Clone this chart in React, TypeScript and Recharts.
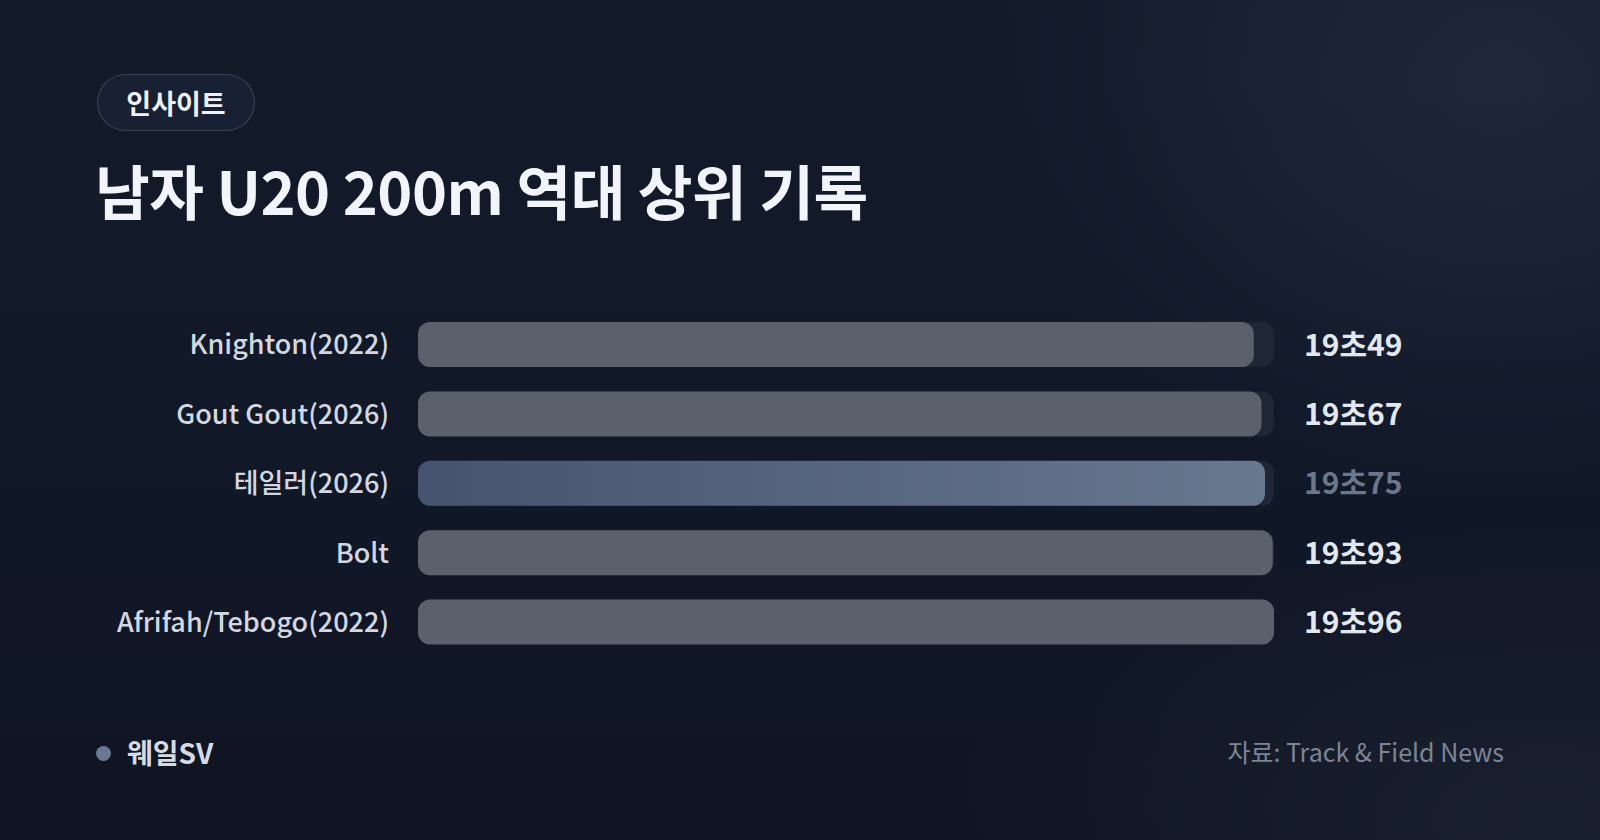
import { BarChart, Bar, XAxis, YAxis, Cell } from 'recharts'

// 남자 U20 200m 역대 상위 기록 (seconds)
const athletes = ['Knighton(2022)', 'Gout Gout(2026)', '테일러(2026)', 'Bolt', 'Afrifah/Tebogo(2022)']
const times = [19.49, 19.67, 19.75, 19.93, 19.96]
const timeLabels = ['19초49', '19초67', '19초75', '19초93', '19초96']
const highlightIndex = 2

const FONT = '"Noto Sans CJK KR", "Noto Sans", sans-serif'

const rows = athletes.map((name, i) => ({ name, time: times[i], label: timeLabels[i] }))

function NameTick(props: any) {
  const { x, y, payload } = props
  return (
    <text x={x} y={y} dy="0.36em" textAnchor="end" fill="#d3d8e0" fontSize={27} fontWeight={500} fontFamily={FONT}>
      {payload.value}
    </text>
  )
}

function ValueTick(props: any) {
  const { x, y, payload, index } = props
  const dim = index === highlightIndex
  return (
    <text x={x} y={y} dy="0.36em" textAnchor="start" fill={dim ? '#6c778b' : '#e3e7ee'} fontSize={30} fontWeight={700} fontFamily={FONT}>
      {timeLabels[athletes.indexOf(payload.value)]}
    </text>
  )
}

export default function App() {
  return (
    <div
      style={{
        position: 'absolute',
        left: 0,
        top: 0,
        width: 1600,
        height: 840,
        overflow: 'hidden',
        fontFamily: FONT,
        background:
          'radial-gradient(ellipse 520px 420px at 1500px 80px, rgba(40,50,70,0.55), rgba(40,50,70,0) 100%), radial-gradient(ellipse 600px 300px at 1550px 820px, rgba(35,42,58,0.5), rgba(35,42,58,0) 100%), linear-gradient(180deg, #131a2a 0%, #111828 50%, #0f1522 100%)',
      }}
    >
      {/* badge */}
      <div
        style={{
          position: 'absolute',
          left: 97,
          top: 74,
          width: 158,
          height: 57,
          boxSizing: 'border-box',
          borderRadius: 29,
          border: '1px solid rgba(255,255,255,0.16)',
          background: '#182033',
          color: '#eef1f6',
          fontSize: 27,
          fontWeight: 700,
          display: 'flex',
          alignItems: 'center',
          justifyContent: 'center',
        }}
      >
        인사이트
      </div>

      {/* title */}
      <div
        style={{
          position: 'absolute',
          left: 95,
          top: 149,
          color: '#f1f4f9',
          fontSize: 59.5,
          fontWeight: 700,
          letterSpacing: -0.5,
          lineHeight: '80px',
          whiteSpace: 'nowrap',
        }}
      >
        남자 U20 200m 역대 상위 기록
      </div>

      {/* chart */}
      <div style={{ position: 'absolute', left: 0, top: 310 }}>
        <BarChart
          width={1600}
          height={347}
          data={rows}
          layout="vertical"
          margin={{ top: 0, right: 0, bottom: 0, left: 0 }}
        >
          <defs>
            <linearGradient id="hiGrad" x1="0" y1="0" x2="1" y2="0">
              <stop offset="0%" stopColor="#46536e" />
              <stop offset="100%" stopColor="#68788f" />
            </linearGradient>
          </defs>
          <XAxis type="number" hide domain={[0, 19.96]} />
          <YAxis
            yAxisId="left"
            type="category"
            dataKey="name"
            width={418}
            axisLine={false}
            tickLine={false}
            tickSize={0}
            tickMargin={29}
            tick={<NameTick />}
            interval={0}
          />
          <YAxis
            yAxisId="right"
            orientation="right"
            type="category"
            dataKey="name"
            width={326}
            axisLine={false}
            tickLine={false}
            tickSize={0}
            tickMargin={30}
            tick={<ValueTick />}
            interval={0}
          />
          <Bar
            yAxisId="left"
            dataKey="time"
            barSize={45}
            radius={12}
            fill="#5a606c"
            background={{ fill: '#1f2636', radius: 12 }}
            isAnimationActive={false}
          >
            {rows.map((r, i) => (
              <Cell key={r.name} fill={i === highlightIndex ? 'url(#hiGrad)' : '#5a606c'} />
            ))}
          </Bar>
        </BarChart>
      </div>

      {/* footer */}
      <div style={{ position: 'absolute', left: 96, top: 746, width: 15, height: 15, borderRadius: '50%', background: '#6a7892' }} />
      <div style={{ position: 'absolute', left: 127, top: 732, color: '#d6dbe4', fontSize: 28, fontWeight: 700, lineHeight: '40px' }}>
        웨일SV
      </div>
      <div
        style={{
          position: 'absolute',
          right: 96,
          top: 731,
          color: '#7d8595',
          fontSize: 25,
          fontWeight: 400,
          lineHeight: '40px',
          whiteSpace: 'nowrap',
        }}
      >
        자료: Track &amp; Field News
      </div>
    </div>
  )
}
